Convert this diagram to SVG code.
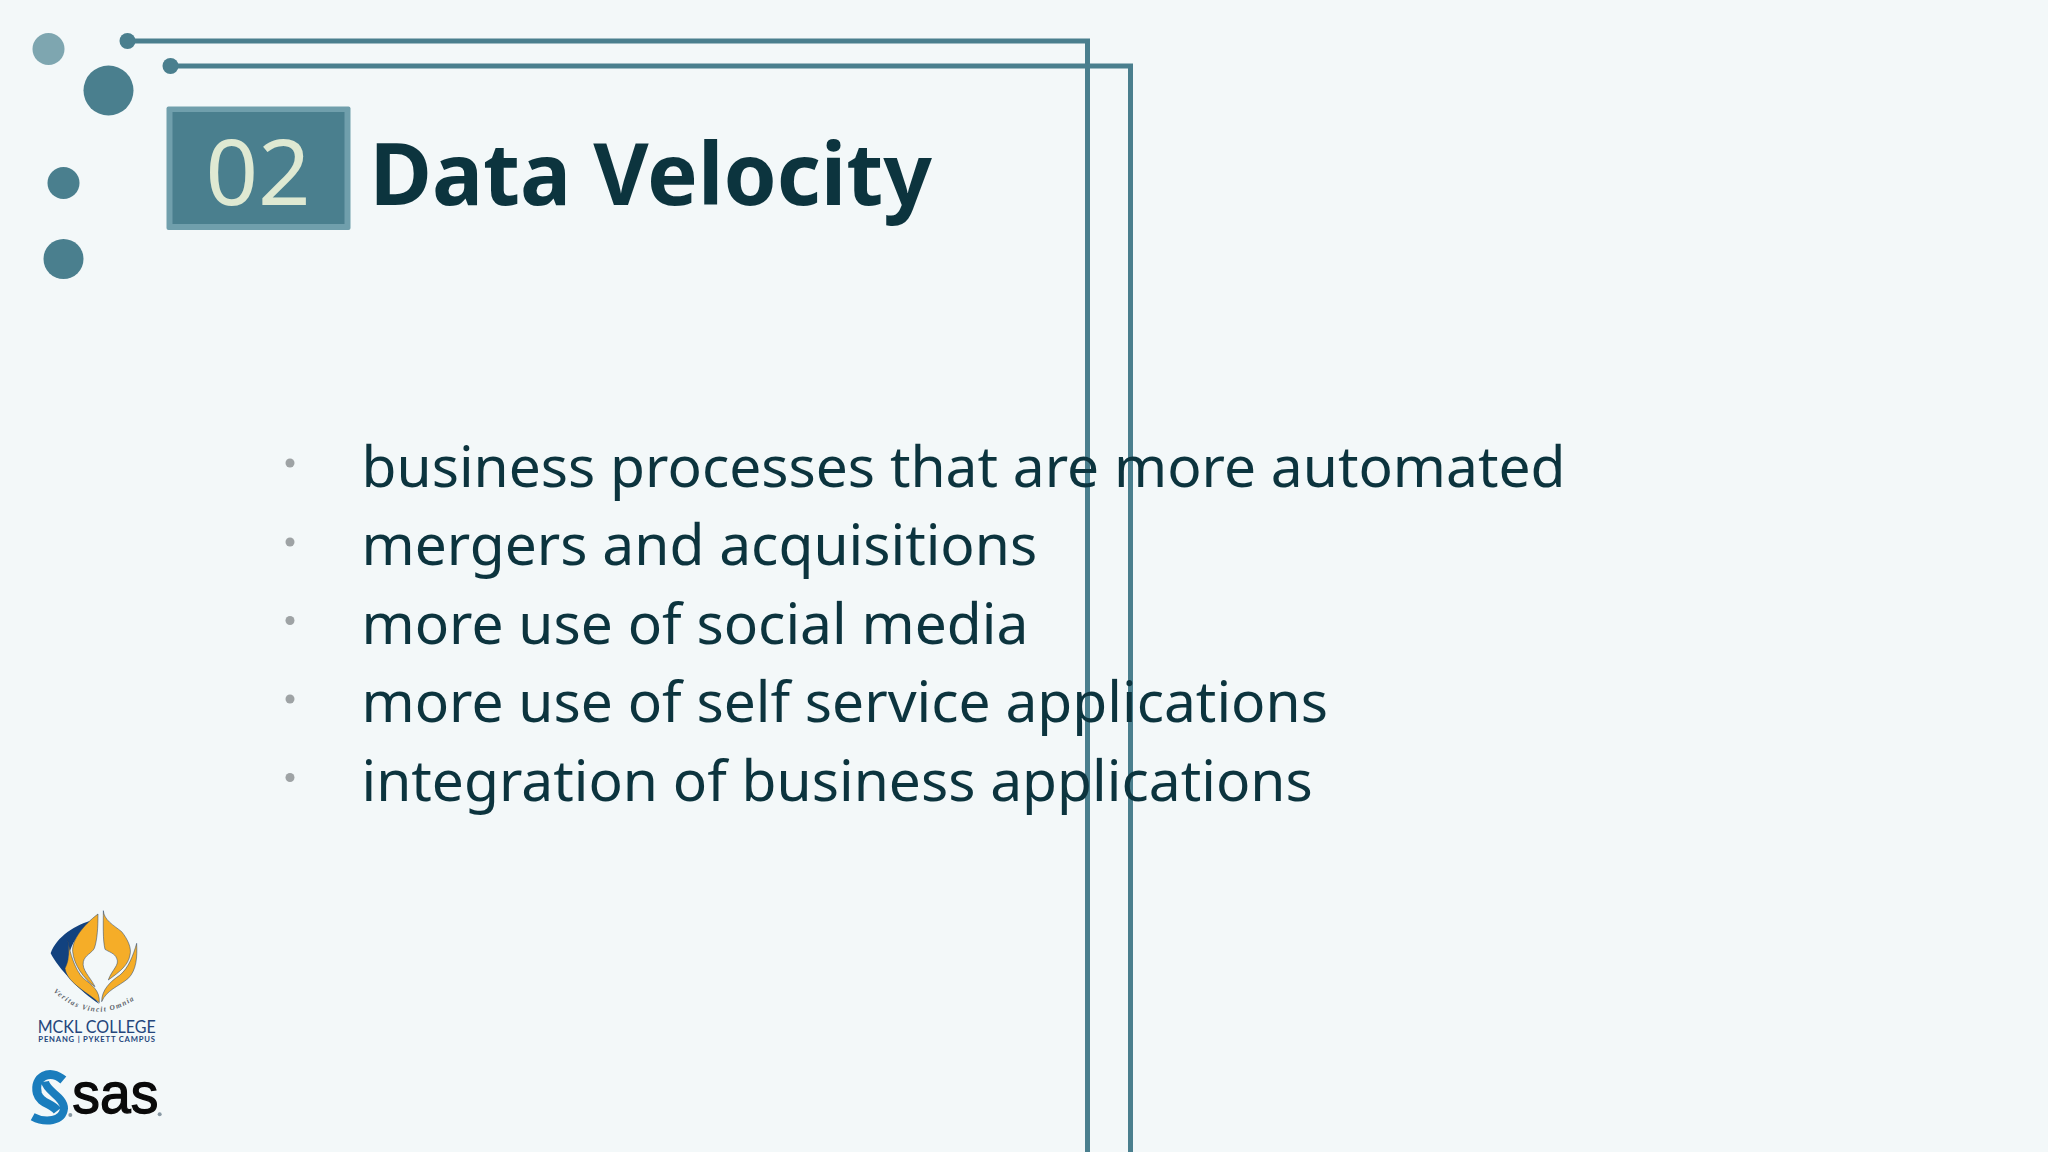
<svg xmlns="http://www.w3.org/2000/svg" width="2048" height="1152" viewBox="0 0 2048 1152">
<style>
.t{font-family:"Noto Sans","Open Sans","DejaVu Sans",sans-serif;fill:#0c343e}
.b{font-size:56.900px}
.dot{fill:#9ea3a5}
.c{fill:#4a7f8e}
.l{fill:none;stroke:#4a7f8e;stroke-width:5}
.g{fill:#f5ad28;stroke:#1d3f6e;stroke-width:1.5}
.lt{font-family:Lato,"Liberation Sans",sans-serif;fill:#24467c}
</style>
<rect width="2048" height="1152" fill="#f3f8f9"/>
<g id="decor">
<circle cx="48.500" cy="49" r="16" fill="#7ea6b0"/>
<circle cx="108.500" cy="90.500" r="25" class="c"/>
<circle cx="63.500" cy="183" r="16" class="c"/>
<circle cx="63.500" cy="259" r="20" class="c"/>
</g>
<g id="connectors">
<circle cx="127.500" cy="41" r="8" class="c"/>
<circle cx="170.500" cy="66" r="8" class="c"/>
<path class="l" d="M127 41H1087.500V1152"/>
<path class="l" d="M170 66H1130.500V1152"/>
</g>
<g id="badge">
<rect x="166.500" y="106.500" width="184" height="123.500" rx="2" fill="#709fac"/>
<rect x="172.500" y="112" width="172" height="112" fill="#4a7f8e"/>
<text x="258" y="205" text-anchor="middle" font-family="Noto Sans,sans-serif" font-size="92" fill="#dfe9d2">02</text>
</g>
<g id="title"><text x="369.500" y="205" class="t" font-size="85.300" font-weight="700">Data Velocity</text></g>
<g id="bullets">
<circle class="dot" cx="290" cy="463" r="4.500"/><circle class="dot" cx="290" cy="542" r="4.500"/><circle class="dot" cx="290" cy="620.500" r="4.500"/><circle class="dot" cx="290" cy="699" r="4.500"/><circle class="dot" cx="290" cy="777.500" r="4.500"/>
<text class="t b" x="361.500" y="486.500">business processes that are more automated</text>
<text class="t b" x="361.500" y="565">mergers and acquisitions</text>
<text class="t b" x="361.500" y="643.500">more use of social media</text>
<text class="t b" x="361.500" y="722">more use of self service applications</text>
<text class="t b" x="361.500" y="800.500">integration of business applications</text>
</g>
<g id="mckl-logo" transform="translate(0 890) scale(.33333)">
<defs><path id="arc" d="M160 305Q295 425 435 305"/></defs>
<path d="M285 88C225 105 170 140 152 190C175 235 240 305 298 342L205 230C200 170 240 120 285 88Z" fill="#12427f"/>
<path class="g" d="M294 72C250 105 215 150 218 185C222 225 250 265 285 290C270 260 245 240 250 215C255 195 275 190 283 175C292 150 294 110 294 72Z"/>
<path class="g" d="M203 150C210 190 205 215 195 235C200 275 250 300 298 338C300 300 275 285 250 265C225 240 210 190 203 150Z"/>
<path class="g" d="M310 62C312 90 340 105 365 125C385 150 395 175 390 195C385 225 360 245 325 270C335 240 360 225 350 205C345 190 325 185 315 178C308 150 310 100 310 62Z"/>
<path class="g" d="M410 160C412 200 410 240 385 265C355 290 320 300 305 335C305 300 330 275 360 255C385 235 400 195 410 160Z"/>
<text font-family="Liberation Serif,serif" font-size="22" font-style="italic" font-weight="700" letter-spacing="4" fill="#5a6068"><textPath href="#arc">Veritas Vincit Omnia</textPath></text>
<text class="lt" x="290" y="428" text-anchor="middle" font-size="54" textLength="354" lengthAdjust="spacingAndGlyphs">MCKL COLLEGE</text>
<text class="lt" x="290" y="457" text-anchor="middle" font-size="23" font-weight="700" textLength="350" lengthAdjust="spacing">PENANG | PYKETT CAMPUS</text>
</g>
<g id="sas-logo" transform="translate(0 890) scale(.33333)">
<path d="M190 570C150 535 100 560 112 610C120 640 155 640 172 662" fill="none" stroke="#1a7dbd" stroke-width="27"/>
<path d="M135 575C140 605 192 620 192 655C188 695 135 700 98 680" fill="none" stroke="#1a7dbd" stroke-width="24"/>
<text x="217" y="669" font-family="Liberation Sans,sans-serif" font-size="172" fill="#0a0a0a" stroke="#0a0a0a" stroke-width="4" textLength="258" lengthAdjust="spacingAndGlyphs">sas</text>
<circle cx="211" cy="675" r="6" fill="#8a9aa5"/><circle cx="479" cy="673" r="6" fill="#8a9aa5"/>
</g>
</svg>
